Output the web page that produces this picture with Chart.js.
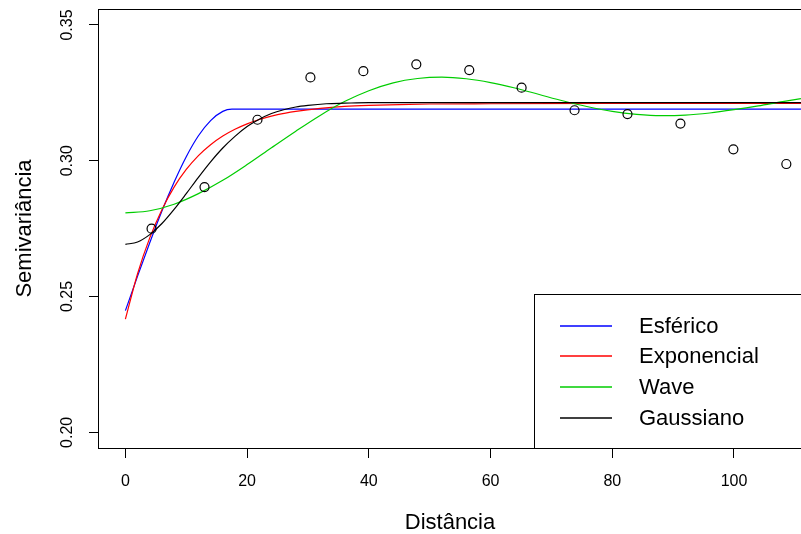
<!DOCTYPE html>
<html>
<head>
<meta charset="utf-8">
<script src="https://cdn.jsdelivr.net/npm/chart.js@4/dist/chart.umd.min.js"></script>
<style>
  html, body { margin: 0; padding: 0; background: #fff; overflow: hidden; }
  canvas { display: block; }
</style>
</head>
<body>
<canvas id="vario" width="801" height="534"></canvas>
<script>
// Empirical semivariogram (lag distance, semivariance)
const lagDist  = [4.3, 13.0, 21.7, 30.4, 39.1, 47.8, 56.5, 65.1, 73.8, 82.5, 91.2, 99.9, 108.6];
const lagGamma = [0.2750, 0.2903, 0.3151, 0.3307, 0.3330, 0.3355, 0.3334, 0.3269, 0.3186, 0.3172, 0.3137, 0.3042, 0.2988];

// Fitted models, sampled along the distance axis
const sphDist  = [0, 2, 4, 6, 8, 10, 12, 14, 16, 17.5, 111];
const sphGamma = [0.2448, 0.2575, 0.2698, 0.2815, 0.2921, 0.3015, 0.3092, 0.3148, 0.3182, 0.3190, 0.3190];

const expDist  = [0, 2, 4, 6, 8, 10, 12, 14, 16, 18, 20, 22, 25, 28, 32, 36, 40, 45, 50, 60, 80, 111];
const expGamma = [0.2417, 0.2584, 0.2716, 0.2820, 0.2903, 0.2968, 0.3019, 0.3059, 0.3091, 0.3116, 0.3136, 0.3152, 0.3170, 0.3182, 0.3193, 0.3200, 0.3204, 0.3207, 0.3209, 0.3210, 0.3211, 0.3211];

const waveDist  = [0, 4, 8, 12, 16, 20, 24, 28, 32, 36, 40, 44, 48, 52, 56, 60, 64, 68, 72, 76, 80, 84, 88, 92, 96, 100, 104, 108, 111];
const waveGamma = [0.2808, 0.2816, 0.2840, 0.2879, 0.2928, 0.2986, 0.3048, 0.3109, 0.3167, 0.3218, 0.3258, 0.3287, 0.3303, 0.3308, 0.3302, 0.3288, 0.3268, 0.3244, 0.3220, 0.3199, 0.3182, 0.3171, 0.3166, 0.3168, 0.3176, 0.3188, 0.3202, 0.3218, 0.3229];

const gauDist  = [0, 2, 4, 6, 8, 10, 12, 14, 16, 18, 20, 22, 24, 26, 28, 30, 33, 36, 40, 50, 111];
const gauGamma = [0.2692, 0.2701, 0.2728, 0.2769, 0.2821, 0.2879, 0.2939, 0.2996, 0.3047, 0.3090, 0.3126, 0.3153, 0.3174, 0.3188, 0.3198, 0.3204, 0.3210, 0.3212, 0.3214, 0.3214, 0.3214];

// Axis ticks
const xTicks = [0, 20, 40, 60, 80, 100];
const yTicks = [0.20, 0.25, 0.30, 0.35];

const modelNames  = ['Esférico', 'Exponencial', 'Wave', 'Gaussiano'];
const modelColors = ['#0000ff', '#ff0000', '#00cd00', '#000000'];

const FONT = '"Liberation Sans", Arial, Helvetica, sans-serif';

function pairs(xs, ys) { return xs.map((x, i) => ({ x: x, y: ys[i] })); }

function curve(idx, xs, ys, order) {
  return {
    label: modelNames[idx],
    data: pairs(xs, ys),
    borderColor: modelColors[idx],
    backgroundColor: modelColors[idx],
    borderWidth: 1.2,
    pointRadius: 0,
    fill: false,
    cubicInterpolationMode: 'monotone',
    order: order
  };
}

// Keep the plotting region exactly where the axes put it
function noEdgePadding(s) {
  s.paddingLeft = 0; s.paddingRight = 0; s.paddingTop = 0; s.paddingBottom = 0;
}

// Box around the plotting region
const frame = {
  id: 'frame',
  afterDatasetsDraw(chart) {
    const { ctx, chartArea: a } = chart;
    ctx.save();
    ctx.strokeStyle = '#000';
    ctx.lineWidth = 1;
    ctx.strokeRect(Math.round(a.left) - 0.5, Math.round(a.top) + 0.5,
                   Math.round(a.right - a.left) + 20, Math.round(a.bottom - a.top));
    ctx.restore();
  }
};

// Boxed legend in the lower right corner
const boxLegend = {
  id: 'boxLegend',
  afterDraw(chart) {
    const { ctx } = chart;
    const left = 534.5, top = 294.5, bottom = 448.5;
    ctx.save();
    ctx.fillStyle = '#fff';
    ctx.fillRect(left, top, 400, bottom - top);
    ctx.strokeStyle = '#000';
    ctx.lineWidth = 1;
    ctx.strokeRect(left, top, 400, bottom - top);
    ctx.font = '22px ' + FONT;
    ctx.textBaseline = 'middle';
    ctx.textAlign = 'left';
    modelNames.forEach((name, i) => {
      const y = Math.round(325.5 + i * 30.9);
      ctx.beginPath();
      ctx.strokeStyle = modelColors[i];
      ctx.lineWidth = 1.4;
      ctx.moveTo(560, y);
      ctx.lineTo(612, y);
      ctx.stroke();
      ctx.fillStyle = '#000';
      ctx.fillText(name, 639, y + 1);
    });
    ctx.restore();
  }
};

new Chart(document.getElementById('vario'), {
  type: 'line',
  data: {
    datasets: [
      {
        label: 'semivariância',
        data: pairs(lagDist, lagGamma),
        showLine: false,
        pointStyle: 'circle',
        pointRadius: 4.5,
        pointBorderWidth: 1.2,
        pointBorderColor: '#000',
        pointBackgroundColor: 'rgba(0,0,0,0)',
        borderColor: '#000',
        order: 0
      },
      curve(0, sphDist, sphGamma, 4),
      curve(1, expDist, expGamma, 3),
      curve(2, waveDist, waveGamma, 2),
      curve(3, gauDist, gauGamma, 1)
    ]
  },
  options: {
    responsive: false,
    animation: false,
    devicePixelRatio: 1,
    layout: { autoPadding: false, padding: { top: 9, left: 0, right: 0, bottom: 0 } },
    plugins: { legend: { display: false }, tooltip: { enabled: false } },
    scales: {
      x: {
        type: 'linear',
        min: -4.338,
        max: 111.01,
        afterBuildTicks: s => { s.ticks = xTicks.map(v => ({ value: v })); },
        afterFit: s => { s.height = 86; noEdgePadding(s); },
        border: { display: false },
        grid: { drawOnChartArea: false, drawTicks: true, tickLength: 10, tickWidth: 1, tickColor: '#000' },
        ticks: {
          color: '#000',
          font: { family: FONT, size: 16 },
          padding: 14,
          maxRotation: 0,
          callback: v => String(v)
        },
        title: {
          display: true,
          text: 'Distância',
          color: '#000',
          font: { family: FONT, size: 22, lineHeight: 1 },
          padding: { top: 0, bottom: 0 }
        }
      },
      y: {
        type: 'linear',
        min: 0.19422,
        max: 0.35589,
        afterBuildTicks: s => { s.ticks = yTicks.map(v => ({ value: v })); },
        afterFit: s => { s.width = 99; noEdgePadding(s); },
        border: { display: false },
        grid: { drawOnChartArea: false, drawTicks: true, tickLength: 10, tickWidth: 1, tickColor: '#000' },
        ticks: {
          color: '#000',
          font: { family: FONT, size: 16 },
          padding: 6,
          minRotation: 90,
          maxRotation: 90,
          crossAlign: 'center',
          callback: v => v.toFixed(2)
        },
        title: {
          display: true,
          text: 'Semivariância',
          color: '#000',
          font: { family: FONT, size: 22 },
          padding: { top: 12, bottom: 0 }
        }
      }
    }
  },
  plugins: [frame, boxLegend]
});
</script>
</body>
</html>
